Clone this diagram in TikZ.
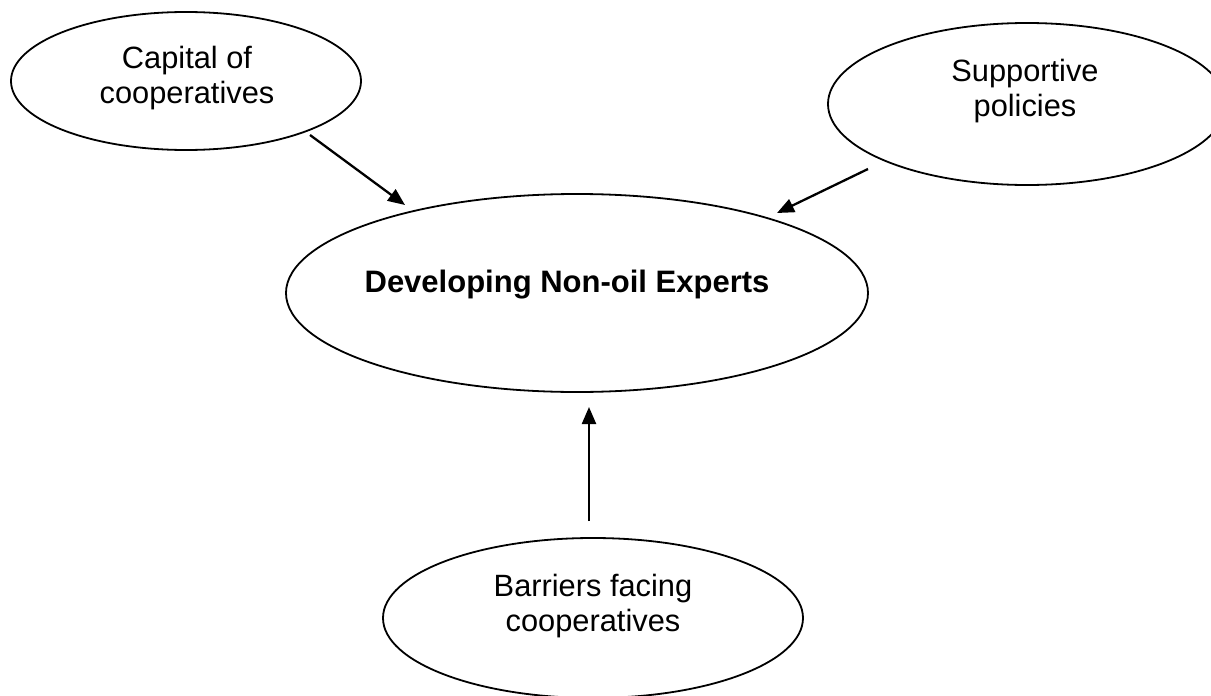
\documentclass[tikz,border=0pt]{standalone}
\usepackage{fontspec}
\setmainfont{Liberation Sans}
\usetikzlibrary{shapes.geometric,arrows.meta,calc}
\tikzset{
  bubble/.style={draw, ellipse, line width=0.9pt, inner sep=0pt},
  label/.style={align=center, inner sep=0pt, font=\fontsize{15.4}{17.5}\selectfont},
  arr/.style={line width=1.15pt, -{Triangle[length=8.5pt,width=7pt]}},
}
\begin{document}
\begin{tikzpicture}[x=0.5pt,y=-0.5pt]
\useasboundingbox (0,0) rectangle (1211,696);
\node[bubble, minimum width=175pt, minimum height=69pt] (cap) at (186,81) {};
\node[label] (capt) at (187,78) {Capital of\\cooperatives};
\node[bubble, minimum width=199pt, minimum height=81pt] (sup) at (1027,104) {};
\node[label] (supt) at (1025,91) {Supportive\\policies};
\node[bubble, minimum width=291pt, minimum height=99pt] (main) at (577,293) {};
\node[font=\bfseries\fontsize{15.5}{18}\selectfont, inner sep=0pt] (maint) at (567,285) {Developing Non-oil Experts};
\node[bubble, minimum width=210pt, minimum height=80pt] (bar) at (593,618) {};
\node[label] (bart) at (593,606) {Barriers facing\\cooperatives};
\draw[arr] ($(cap.center)+(124,54)$) -- ($(main.center)+(-172,-88)$);
\draw[arr] ($(sup.center)+(-159,65)$) -- ($(main.center)+(200,-80)$);
\draw[arr] ($(bar.center)+(-4,-97)$) -- ($(main.center)+(12,114)$);
\end{tikzpicture}
\end{document}
